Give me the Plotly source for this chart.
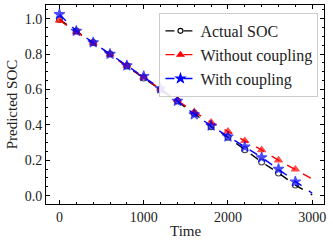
import plotly.graph_objects as go

time = [0, 200, 400, 600, 800, 1000, 1200, 1400, 1600, 1800, 2000, 2200, 2400, 2600, 2800, 3000]
actual = [0.996, 0.93, 0.865, 0.80, 0.733, 0.665, 0.60, 0.535, 0.465, 0.39, 0.33, 0.26, 0.19, 0.128, 0.06, 0.004]
without = [0.99, 0.925, 0.862, 0.797, 0.735, 0.668, 0.605, 0.54, 0.473, 0.414, 0.363, 0.31, 0.258, 0.20, 0.149, 0.094]
withc = [1.024, 0.93, 0.865, 0.80, 0.735, 0.675, 0.605, 0.535, 0.459, 0.395, 0.333, 0.276, 0.216, 0.15, 0.079, 0.014]

names = ["Actual SOC", "Without coupling", "With coupling"]
series = [actual, without, withc]
colors = ["#000000", "#ff0000", "#0000ff"]
symbols = ["circle-open", "triangle-up", "star"]
msize = [6, 7, 8]

FONT = "Liberation Serif, DejaVu Serif, serif"

fig = go.Figure()
for n, s, c, sym, ms in zip(names, series, colors, symbols, msize):
    sizes = [ms] * (len(time) - 1) + [0]
    fig.add_trace(go.Scatter(
        x=time, y=s, name=n, mode="lines+markers", showlegend=False,
        line=dict(color=c, width=1.4, dash="dash"),
        marker=dict(symbol=sym, size=sizes, color=c, line=dict(color=c, width=1.1)),
    ))
for n, c, sym, ms in zip(names, colors, symbols, msize):
    fig.add_trace(go.Scatter(
        x=[None], y=[None], name=n, mode="lines+markers",
        line=dict(color=c, width=1.4, dash="dash"),
        marker=dict(symbol=sym, size=ms - 1, color=c, line=dict(color=c, width=1.1)),
    ))

axis_common = dict(
    showgrid=False, zeroline=False, showline=True, linecolor="black", linewidth=1,
    mirror="allticks", ticks="inside", ticklen=4, tickwidth=0.8, tickcolor="black",
    tickfont=dict(family=FONT, size=14, color="#222"), automargin=False,
)

fig.update_xaxes(
    range=[-160, 3140], tickmode="array", tickvals=[0, 1000, 2000, 3000],
    minor=dict(ticks="inside", ticklen=2, dtick=200, tick0=0, tickcolor="black", tickwidth=0.6),
    **axis_common,
)
fig.update_yaxes(
    range=[-0.047, 1.077], tickmode="array", tickvals=[0, 0.2, 0.4, 0.6, 0.8, 1.0],
    ticktext=["0.0", "0.2", "0.4", "0.6", "0.8", "1.0"],
    minor=dict(ticks="inside", ticklen=2, dtick=0.05, tick0=0, tickcolor="black", tickwidth=0.6),
    **axis_common,
)

fig.update_layout(
    width=333, height=245,
    margin=dict(l=46, r=9, t=5, b=41),
    plot_bgcolor="white", paper_bgcolor="white",
    showlegend=True,
    legend=dict(
        x=0.98, y=0.96, xanchor="right", yanchor="top",
        bgcolor="rgba(255,255,255,0.9)", bordercolor="#cccccc", borderwidth=1,
        font=dict(family=FONT, size=16, color="#222"),
        tracegroupgap=0,
    ),
    annotations=[
        dict(text="Time", x=0.5, y=-0.136, xref="paper", yref="paper", showarrow=False,
             xanchor="center", yanchor="middle", font=dict(family=FONT, size=15, color="#222")),
        dict(text="Predicted SOC", x=-0.123, y=0.5, xref="paper", yref="paper", showarrow=False,
             textangle=-90, xanchor="center", yanchor="middle", font=dict(family=FONT, size=15, color="#222")),
    ],
)

fig.write_html("out.html", config={"displayModeBar": False},
               post_script="document.body.style.margin='0';document.body.style.overflow='hidden';")
